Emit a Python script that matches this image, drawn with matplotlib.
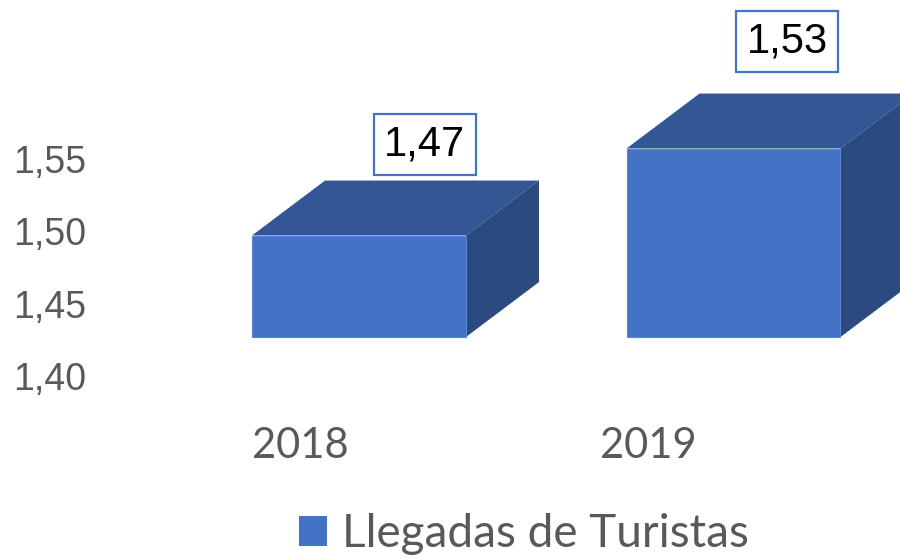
import matplotlib.pyplot as plt
from matplotlib.patches import Polygon, Patch

# DATA
years = ["2018", "2019"]
llegadas = [1.47, 1.53]
y_ticks = [1.40, 1.45, 1.50, 1.55]
serie = "Llegadas de Turistas"

# LAYOUT (3D look, data units)
base = 1.40
bar_w = 0.5714
depth_x = 0.195
depth_y = 0.0379
label_dx = [0.175, 0.144]      # data label box offsets from bar centre
label_dy = [0.0628, 0.0738]
cat_dx = [-0.1575, -0.2283]    # category label offsets
tick_dy = -0.0297

front_c = "#4472C4"
top_c = "#335795"
side_c = "#2B4A80"
grey = "#595959"

sans = ["Liberation Sans", "DejaVu Sans"]

fig = plt.figure(figsize=(9, 5.59), dpi=100)
ax = fig.add_axes([0, 0, 1, 1])
ax.set_xlim(-0.9586, 1.4446)
ax.set_ylim(1.40 - 222 / 1450, 1.40 + 337 / 1450)
ax.axis("off")

xs = range(len(years))
bars = ax.bar(xs, [v - base for v in llegadas], bottom=base, width=bar_w,
              color=front_c, edgecolor="#5B86D0", linewidth=0.8, zorder=3)

for i, v in zip(xs, llegadas):
    x0 = i - bar_w / 2
    x1 = i + bar_w / 2
    top = Polygon([(x0, v), (x0 + depth_x, v + depth_y),
                   (x1 + depth_x, v + depth_y), (x1, v)],
                  closed=True, facecolor=top_c, edgecolor="none", zorder=2)
    side = Polygon([(x1, base), (x1 + depth_x, base + depth_y),
                    (x1 + depth_x, v + depth_y), (x1, v)],
                   closed=True, facecolor=side_c, edgecolor="none", zorder=2)
    ax.add_patch(top)
    ax.add_patch(side)
    ax.text(i + label_dx[i], v + label_dy[i], f"{v:.2f}".replace(".", ","),
            ha="center", va="center", fontsize=30, family=sans, color="black",
            bbox=dict(boxstyle="square,pad=0.25", facecolor="white",
                      edgecolor=front_c, linewidth=1.6), zorder=5)
    ax.text(i + cat_dx[i], 1.40 - 0.0755, years[i], ha="center", va="center",
            fontsize=30, family="Lato", color=grey)

for t in y_ticks:
    ax.text(-0.923, t + tick_dy, f"{t:.2f}".replace(".", ","), ha="left",
            va="center", fontsize=27, family=sans, color=grey)

leg = ax.legend(handles=[Patch(facecolor=front_c, label=serie)],
                loc="center", bbox_to_anchor=(0.582, 0.045), frameon=False,
                prop={"family": "Lato", "size": 33}, handlelength=0.62,
                handleheight=0.62, handletextpad=0.33, borderaxespad=0)
for txt in leg.get_texts():
    txt.set_color(grey)

fig.savefig("out.png", dpi=100)
